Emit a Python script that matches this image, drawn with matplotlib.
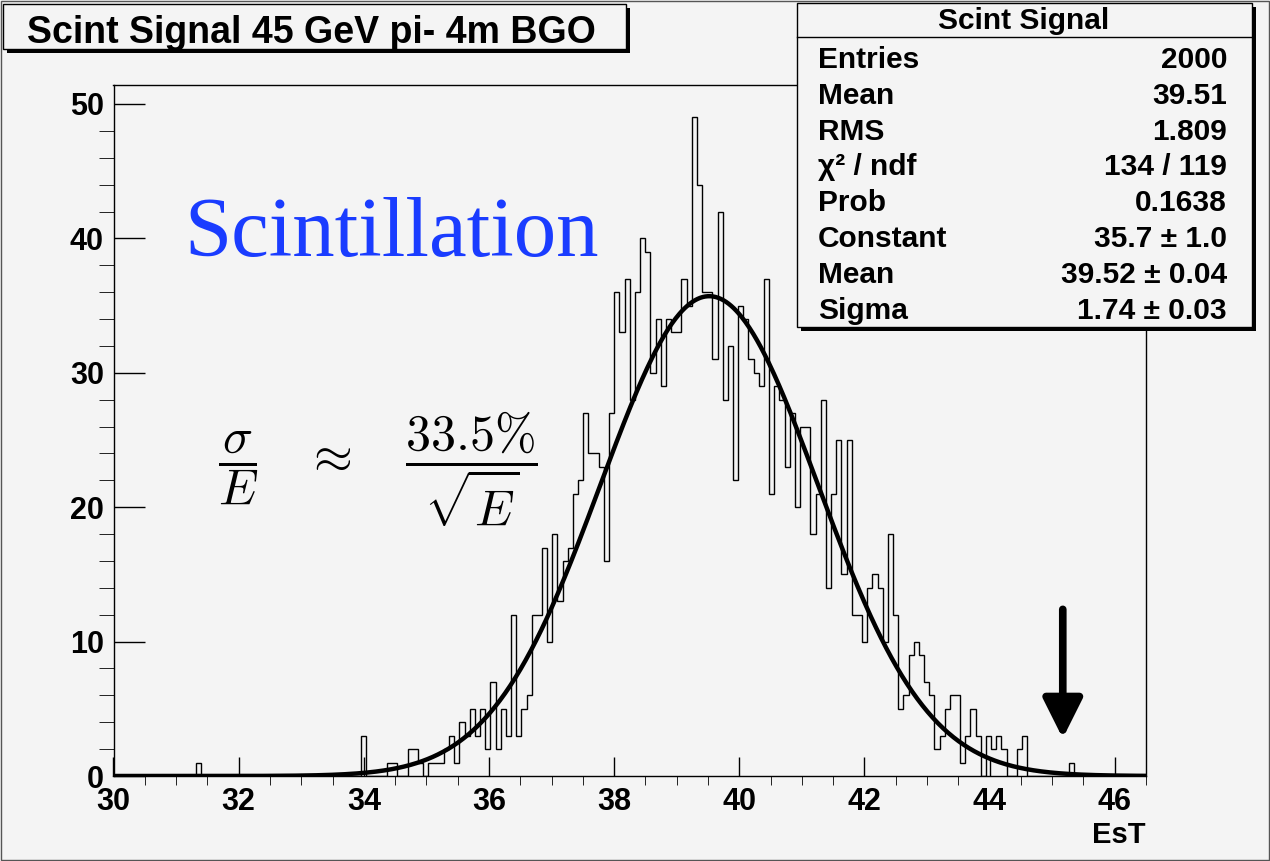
import numpy as np
import matplotlib.pyplot as plt
from matplotlib.patches import Rectangle

W, H = 1270, 861
BG = '#f4f4f4'
FONT = 'Liberation Sans'

# histogram: 200 bins between 30 and 46.5
n_bins = 200
x_lo, x_hi = 30.0, 46.5
low_bin, low_count = 16, 1
first_bin = 48
counts = [3, 0, 0, 0, 0, 1, 1, 0, 0, 2,
          2, 1, 0, 1, 1, 1, 2, 3, 1, 4,
          3, 5, 3, 5, 2, 7, 2, 5, 3, 12,
          3, 5, 6, 12, 12, 17, 10, 18, 13, 16,
          17, 21, 22, 27, 24, 24, 23, 16, 27, 36,
          33, 37, 28, 36, 40, 39, 30, 34, 29, 34,
          33, 33, 37, 35, 49, 44, 36, 36, 31, 42,
          28, 32, 22, 35, 34, 31, 30, 29, 37, 21,
          29, 28, 23, 27, 20, 26, 26, 18, 21, 28,
          14, 21, 25, 15, 25, 12, 12, 10, 14, 15,
          14, 10, 18, 12, 5, 6, 9, 10, 9, 7,
          6, 2, 3, 5, 6, 6, 1, 3, 5, 3,
          0, 3, 2, 3, 2, 0, 0, 2, 3, 0,
          0, 0, 0, 0, 0, 0, 0, 1]

# gaussian fit result
fit_const, fit_mean, fit_sigma = 35.7, 39.52, 1.74

title = 'Scint Signal 45 GeV pi- 4m BGO'
stats_title = 'Scint Signal'
stats_labels = ['Entries', 'Mean', 'RMS', 'χ² / ndf', 'Prob',
                'Constant', 'Mean', 'Sigma']
stats_values = ['2000', '39.51', '1.809', '134 / 119', '0.1638',
                '35.7 ± 1.0', '39.52 ± 0.04', '1.74 ± 0.03']
x_ticks = [30, 32, 34, 36, 38, 40, 42, 44, 46]
y_ticks = [0, 10, 20, 30, 40, 50]


def fx(x):
    return x / W


def fy(y):
    return 1 - y / H


def box(fig, x0, y0, x1, y1, shadow=4):
    """ROOT style pave with black shadow, in pixel coords from top-left."""
    fig.patches.append(Rectangle((fx(x0 + shadow), fy(y1 + shadow)),
                                 fx(x1 - x0), (y1 - y0) / H,
                                 transform=fig.transFigure, facecolor='k',
                                 edgecolor='k', lw=0, zorder=5))
    fig.patches.append(Rectangle((fx(x0), fy(y1)), fx(x1 - x0), (y1 - y0) / H,
                                 transform=fig.transFigure, facecolor=BG,
                                 edgecolor='k', lw=1.0, zorder=6))


hist = np.zeros(n_bins)
hist[low_bin] = low_count
hist[first_bin:first_bin + len(counts)] = counts
edges = np.linspace(x_lo, x_hi, n_bins + 1)

fig = plt.figure(figsize=(W / 100, H / 100), dpi=100, facecolor=BG)
ax = fig.add_axes([fx(113.5), fy(776), fx(1146 - 113.5), (776 - 84.5) / H])
ax.set_facecolor(BG)

ax.stairs(hist, edges, color='k', lw=1.0, baseline=0, zorder=2)
xs = np.linspace(x_lo, x_hi, 800)
ax.plot(xs, fit_const * np.exp(-0.5 * ((xs - fit_mean) / fit_sigma) ** 2),
        color='k', lw=3.2, zorder=3, solid_capstyle='butt')

ax.set_xlim(x_lo, x_hi)
ax.set_ylim(0, 51.45)
ax.set_xticks(x_ticks)
ax.set_xticks(np.arange(30, 46.6, 0.5), minor=True)
ax.set_yticks(y_ticks)
ax.set_yticks(np.arange(0, 51, 2), minor=True)
ax.tick_params(direction='in', top=False, right=False, width=1.0)
ax.tick_params(axis='x', which='major', length=13.5, pad=8)
ax.tick_params(axis='x', which='minor', length=6.5)
ax.tick_params(axis='y', which='major', length=22, pad=7)
ax.tick_params(axis='y', which='minor', length=11)
for lab in ax.get_xticklabels() + ax.get_yticklabels():
    lab.set_fontfamily(FONT)
    lab.set_fontweight('bold')
    lab.set_fontsize(22)
for sp in ax.spines.values():
    sp.set_linewidth(1.0)

ax.text(46.5, -0.0853, 'EsT', transform=ax.get_xaxis_transform(), ha='right',
        va='center', fontsize=21, fontweight='bold', family=FONT)

ax.text(31.14, 38.7, 'Scintillation', color='#1a3cff', fontsize=61,
        family='Liberation Serif', ha='left', va='baseline')
plt.rcParams['mathtext.fontset'] = 'cm'
ax.text(34.23, 22.8,
        r'$\dfrac{\sigma}{E}\quad\approx\quad\dfrac{33.5\%}{\sqrt{E}}$',
        fontsize=36, ha='center', va='center')

# arrow pointing at the empty tail
arrow_x, arrow_top, arrow_tip = 45.17, 12.4, 2.8
ax.annotate('', xy=(arrow_x, arrow_tip), xytext=(arrow_x, arrow_top),
            arrowprops=dict(arrowstyle='-|>,head_length=0.6,head_width=0.3',
                            color='k', lw=5.5, mutation_scale=40,
                            shrinkA=0, shrinkB=0))

# title pave
box(fig, 3, 4, 626, 49)
fig.text(fx(311), fy(43), title, ha='center', va='baseline', fontsize=27,
         fontweight='bold', family=FONT, zorder=7)

# stats pave
box(fig, 797, 3, 1252, 327)
fig.lines.append(plt.Line2D([fx(797), fx(1252)], [fy(37), fy(37)],
                            transform=fig.transFigure, color='k', lw=1.0,
                            zorder=7))
fig.text(fx(1024), fy(29), stats_title, ha='center', va='baseline',
         fontsize=21.5, fontweight='bold', family=FONT, zorder=7)
for i, (lab, val) in enumerate(zip(stats_labels, stats_values)):
    yb = 68 + i * 35.8
    fig.text(fx(818), fy(yb), lab, ha='left', va='baseline', fontsize=21.5,
             fontweight='bold', family=FONT, zorder=7)
    fig.text(fx(1227), fy(yb), val, ha='right', va='baseline', fontsize=21.5,
             fontweight='bold', family=FONT, zorder=7)

# canvas border
fig.patches.append(Rectangle((0.001, 0.001), 0.998, 0.998,
                             transform=fig.transFigure, fill=False,
                             edgecolor='#555555', lw=1.0, zorder=1))

fig.savefig('out.png', dpi=100, facecolor=BG)
